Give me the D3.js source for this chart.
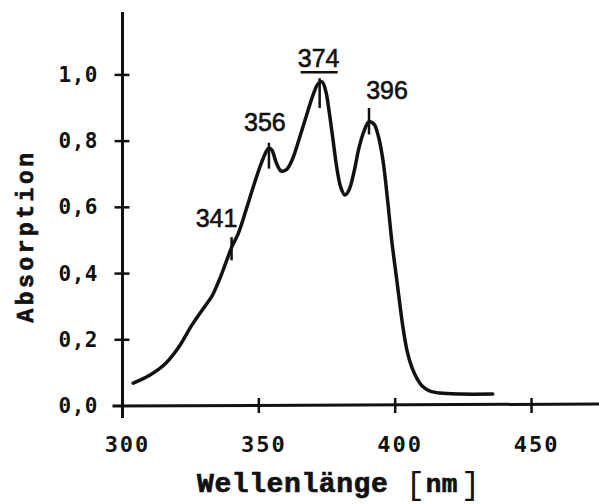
<!DOCTYPE html>
<html lang="de">
<head>
<meta charset="UTF-8">
<script src="https://d3js.org/d3.v7.min.js"></script>
<style>
  body { margin: 0; background: #fff; }
  svg { display: block; }
  .tick-label { font-family: "DejaVu Sans Mono", monospace; font-weight: bold; fill: #111; }
  .title { font-family: "Liberation Mono", "Courier New", monospace; font-weight: bold; fill: #111; stroke: #111; stroke-width: 0.7; }
  .peak { font-family: "Liberation Sans", "DejaVu Sans", sans-serif; fill: #111; stroke: #111; stroke-width: 0.6; }
</style>
</head>
<body>
<div id="chart"></div>
<script>
// spectrum (nm, absorption)
var wavelength = [303.9, 310.1, 315.6, 320.4, 325.5, 330.3, 332.8, 335.8, 338.0, 340.2,
  342.4, 345.3, 348.2, 350.8, 352.6, 353.7, 354.8, 356.3, 358.1, 360.0,
  362.2, 364.7, 367.3, 369.9, 371.7, 373.2, 374.6, 375.7, 377.2, 378.6,
  380.1, 381.6, 383.1, 384.9, 386.7, 388.6, 390.4, 392.2, 393.7, 395.5,
  397.3, 398.8, 400.6, 402.9, 404.4, 406.2, 408.0, 410.2, 412.8,
  416.4, 423.8, 435.8];
var absorption = [0.069, 0.094, 0.127, 0.175, 0.245, 0.302, 0.332, 0.387, 0.435, 0.483,
  0.520, 0.592, 0.668, 0.731, 0.767, 0.779, 0.773, 0.737, 0.710, 0.713,
  0.743, 0.804, 0.873, 0.940, 0.973, 0.979, 0.949, 0.894, 0.804, 0.719,
  0.659, 0.637, 0.653, 0.707, 0.779, 0.831, 0.858, 0.852, 0.819, 0.743,
  0.615, 0.495, 0.380, 0.235, 0.165, 0.115, 0.083, 0.058, 0.045,
  0.039, 0.036, 0.036];

// marked bands: label, where the mark sits on the drawn curve, mark extent
var peakLabels = ["341", "356", "374", "396"];
var peakPos = [340.0, 353.7, 372.3, 390.4];
var peakTop = [0.51, 0.795, 0.99, 0.90];
var peakBottom = [0.44, 0.717, 0.90, 0.82];

var xTicks = [300, 350, 400, 450];
var yTicks = [0, 0.2, 0.4, 0.6, 0.8, 1.0];
var yTickLabels = ["0,0", "0,2", "0,4", "0,6", "0,8", "1,0"];

var W = 599, H = 504;
var svg = d3.select("#chart").append("svg")
  .attr("width", W).attr("height", H);

var x = d3.scaleLinear().domain([300, 475]).range([122.5, 599.7]);
var y = d3.scaleLinear().domain([0, 1.19]).range([406, 12]);

var ink = "#111";

// axes lines
svg.append("line")
  .attr("x1", x(300)).attr("x2", x(300))
  .attr("y1", y(1.19)).attr("y2", y(0) + 12)
  .attr("stroke", ink).attr("stroke-width", 3);
svg.append("line")
  .attr("x1", x(300) - 10).attr("x2", x(475))
  .attr("y1", y(0)).attr("y2", y(0) - 2)
  .attr("stroke", ink).attr("stroke-width", 3);

// y ticks crossing the axis
svg.selectAll(".ytick").data(yTicks.filter(function (d) { return d > 0; }))
  .enter().append("line")
  .attr("x1", x(300) - 8).attr("x2", x(300) + 7)
  .attr("y1", function (d) { return y(d); })
  .attr("y2", function (d) { return y(d); })
  .attr("stroke", ink).attr("stroke-width", 2.5);

svg.selectAll(".ylab").data(yTicks)
  .enter().append("text")
  .attr("class", "tick-label")
  .attr("x", 98)
  .attr("y", function (d) { return y(d) + 7; })
  .attr("text-anchor", "end")
  .style("font-size", "21px")
  .style("letter-spacing", "0.5px")
  .text(function (d, i) { return yTickLabels[i]; });

// x ticks crossing the axis
svg.selectAll(".xtick").data(xTicks.filter(function (d) { return d > 300; }))
  .enter().append("line")
  .attr("x1", function (d) { return x(d); })
  .attr("x2", function (d) { return x(d); })
  .attr("y1", y(0) - 8).attr("y2", y(0) + 7)
  .attr("stroke", ink).attr("stroke-width", 2.5);

svg.selectAll(".xlab").data(xTicks)
  .enter().append("text")
  .attr("class", "tick-label")
  .attr("x", function (d) { return x(d) + 5; })
  .attr("y", 452)
  .attr("text-anchor", "middle")
  .style("font-size", "22px")
  .style("letter-spacing", "2px")
  .text(function (d) { return d; });

// spectrum
var line = d3.line()
  .x(function (d, i) { return x(wavelength[i]); })
  .y(function (d) { return y(d); })
  .curve(d3.curveCatmullRom.alpha(0.5));

svg.append("path")
  .datum(absorption)
  .attr("d", line)
  .attr("fill", "none")
  .attr("stroke", ink)
  .attr("stroke-width", 3.5)
  .attr("stroke-linecap", "round")
  .attr("stroke-linejoin", "round");

// band marks + labels
var labelShift = { "341": [-15, -10], "356": [-4, -12], "374": [-1, -11], "396": [18, -9] };

var peaks = svg.selectAll(".peak-g").data(peakLabels).enter().append("g");

peaks.append("line")
  .attr("x1", function (d, i) { return x(peakPos[i]); })
  .attr("x2", function (d, i) { return x(peakPos[i]); })
  .attr("y1", function (d, i) { return y(peakTop[i]); })
  .attr("y2", function (d, i) { return y(peakBottom[i]); })
  .attr("stroke", ink).attr("stroke-width", 2.5);

peaks.append("text")
  .attr("class", "peak")
  .attr("x", function (d, i) { return x(peakPos[i]) + labelShift[d][0]; })
  .attr("y", function (d, i) { return y(peakTop[i]) + labelShift[d][1]; })
  .attr("text-anchor", "middle")
  .style("font-size", "25px")
  .text(function (d) { return d; });

// the 374 band is underlined
var i374 = peakLabels.indexOf("374");
svg.append("line")
  .attr("x1", x(peakPos[i374]) - 19).attr("x2", x(peakPos[i374]) + 18)
  .attr("y1", y(peakTop[i374]) - 6).attr("y2", y(peakTop[i374]) - 6)
  .attr("stroke", ink).attr("stroke-width", 2.5);

// axis titles
svg.append("text")
  .attr("class", "title")
  .attr("transform", "translate(33,236) rotate(-90)")
  .attr("text-anchor", "middle")
  .style("font-size", "23px")
  .style("letter-spacing", "3.5px")
  .text("Absorption");

var xt = svg.append("text")
  .attr("class", "title")
  .attr("x", 197).attr("y", 492)
  .style("font-size", "28px")
  .style("letter-spacing", "0.6px");
xt.append("tspan").text("Wellenlänge ");
xt.append("tspan").style("font-size", "32px").style("font-weight", "normal").style("stroke-width", 0).attr("dy", 2).text("[");
xt.append("tspan").style("font-size", "26px").attr("dy", -2).text("nm");
xt.append("tspan").style("font-size", "32px").style("font-weight", "normal").style("stroke-width", 0).attr("dx", 3).attr("dy", 2).text("]");
</script>
</body>
</html>
